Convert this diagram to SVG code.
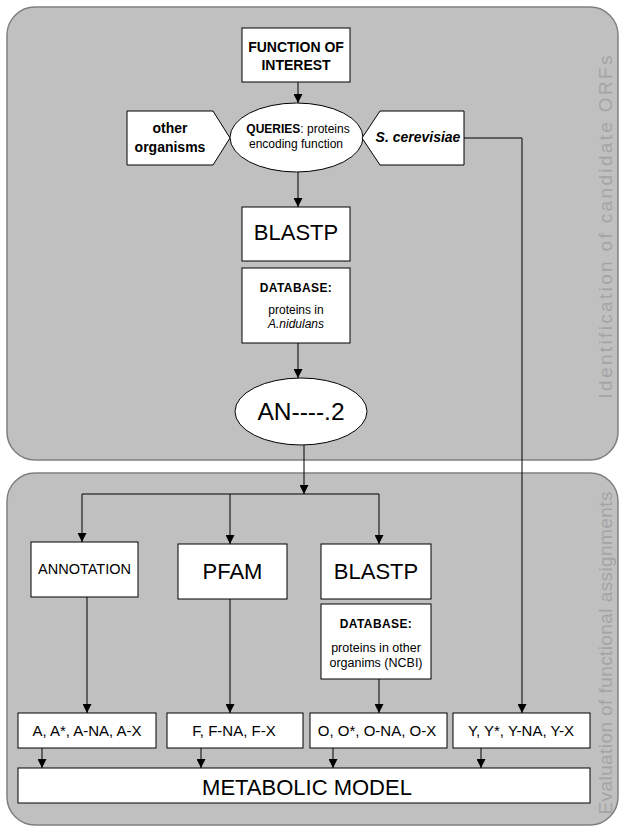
<svg xmlns="http://www.w3.org/2000/svg" width="619" height="827" viewBox="0 0 619 827">
<style>
.panel{fill:#c0c0c0;stroke:#808080;stroke-width:1.5}
.box{fill:#ffffff;stroke:#000000;stroke-width:1}
.t{font-family:"Liberation Sans",Arial,sans-serif;fill:#000;text-anchor:middle}
.b{font-weight:bold}
.side{font-family:"Liberation Sans",Arial,sans-serif;fill:#a4a4a4;font-size:19px;text-anchor:middle}
.c{fill:none;stroke:#000;stroke-width:1}
</style>
<defs>
<marker id="ah" viewBox="0 0 10 10" refX="10" refY="5" markerWidth="9" markerHeight="9" markerUnits="userSpaceOnUse" orient="auto">
<path d="M0,0 L10,5 L0,10 z" fill="#000"/>
</marker>
</defs>
<g id="panel-top">
<rect class="panel" x="7" y="7" width="611" height="453" rx="28" ry="28"/>
<text class="side" transform="translate(605,227) rotate(-90)" textLength="343" lengthAdjust="spacing" dy="7">Identification of candidate ORFs</text>
</g>
<g id="panel-bottom">
<rect class="panel" x="7" y="473" width="611" height="352" rx="28" ry="28"/>
<text class="side" transform="translate(605,653) rotate(-90)" textLength="323" lengthAdjust="spacing" dy="7">Evaluation of functional assignments</text>
</g>
<g id="connectors">
<path class="c" d="M298,82 V103" marker-end="url(#ah)"/>
<path class="c" d="M298,172 V207" marker-end="url(#ah)"/>
<path class="c" d="M298,343 V378" marker-end="url(#ah)"/>
<path class="c" d="M304,445 V494" marker-end="url(#ah)"/>
<path class="c" d="M82,494 H379"/>
<path class="c" d="M82,494 V542" marker-end="url(#ah)"/>
<path class="c" d="M230,494 V544" marker-end="url(#ah)"/>
<path class="c" d="M379,494 V544" marker-end="url(#ah)"/>
<path class="c" d="M87,597 V713" marker-end="url(#ah)"/>
<path class="c" d="M230,599 V713" marker-end="url(#ah)"/>
<path class="c" d="M379,679 V713" marker-end="url(#ah)"/>
<path class="c" d="M464,138 H522 V713" marker-end="url(#ah)"/>
<path class="c" d="M42,748 V768" marker-end="url(#ah)"/>
<path class="c" d="M201,748 V768" marker-end="url(#ah)"/>
<path class="c" d="M333,748 V768" marker-end="url(#ah)"/>
<path class="c" d="M481,748 V768" marker-end="url(#ah)"/>
</g>
<g id="function">
<rect class="box" x="242" y="28" width="108" height="54"/>
<text class="t b" x="296" y="52" font-size="14">FUNCTION OF</text>
<text class="t b" x="296" y="70" font-size="14">INTEREST</text>
</g>
<g id="other-organisms">
<polygon class="box" points="127,111 213,111 230,138 213,165 127,165"/>
<text class="t b" x="170" y="133" font-size="14">other</text>
<text class="t b" x="170" y="152" font-size="14">organisms</text>
</g>
<g id="queries">
<ellipse class="box" cx="296.5" cy="137.5" rx="66.5" ry="34.5"/>
<text class="t" x="298" y="133" font-size="12"><tspan font-weight="bold">QUERIES</tspan>: proteins</text>
<text class="t" x="296" y="148" font-size="12">encoding function</text>
</g>
<g id="s-cerevisiae">
<polygon class="box" points="362,138 380,111 464,111 464,165 380,165"/>
<text class="t b" x="418" y="142" font-size="14" font-style="italic">S. cerevisiae</text>
</g>
<g id="blastp1">
<rect class="box" x="242" y="207" width="108" height="54"/>
<text class="t" x="296" y="240" font-size="22">BLASTP</text>
</g>
<g id="database1">
<rect class="box" x="242" y="268" width="108" height="75"/>
<text class="t b" x="296" y="292" font-size="12" letter-spacing="0.4">DATABASE:</text>
<text class="t" x="296" y="314" font-size="12">proteins in</text>
<text class="t" x="296" y="328" font-size="12" font-style="italic">A.nidulans</text>
</g>
<g id="an">
<ellipse class="box" cx="301" cy="411.5" rx="66" ry="33.5"/>
<text class="t" x="301" y="420" font-size="24.5">AN----.2</text>
</g>
<g id="annotation">
<rect class="box" x="31" y="542" width="107" height="55"/>
<text class="t" x="84.5" y="574" font-size="14.5">ANNOTATION</text>
</g>
<g id="pfam">
<rect class="box" x="178" y="544" width="109" height="55"/>
<text class="t" x="232.5" y="579" font-size="22">PFAM</text>
</g>
<g id="blastp2">
<rect class="box" x="321" y="544" width="110" height="55"/>
<text class="t" x="376" y="579" font-size="22">BLASTP</text>
</g>
<g id="database2">
<rect class="box" x="321" y="604" width="110" height="75"/>
<text class="t b" x="376" y="628" font-size="12" letter-spacing="0.4">DATABASE:</text>
<text class="t" x="376" y="652" font-size="12.5">proteins in other</text>
<text class="t" x="376" y="667" font-size="12.5">organims (NCBI)</text>
</g>
<g id="a-box">
<rect class="box" x="18" y="713" width="138" height="35"/>
<text class="t" x="87" y="736" font-size="15">A, A*, A-NA, A-X</text>
</g>
<g id="f-box">
<rect class="box" x="167" y="713" width="136" height="35"/>
<text class="t" x="234" y="736" font-size="15">F, F-NA, F-X</text>
</g>
<g id="o-box">
<rect class="box" x="310" y="713" width="137" height="35"/>
<text class="t" x="377" y="736" font-size="15">O, O*, O-NA, O-X</text>
</g>
<g id="y-box">
<rect class="box" x="453" y="713" width="137" height="35"/>
<text class="t" x="521" y="736" font-size="15">Y, Y*, Y-NA, Y-X</text>
</g>
<g id="model">
<rect class="box" x="18" y="768" width="572" height="35"/>
<text class="t" x="307" y="795" font-size="22">METABOLIC MODEL</text>
</g>
</svg>
